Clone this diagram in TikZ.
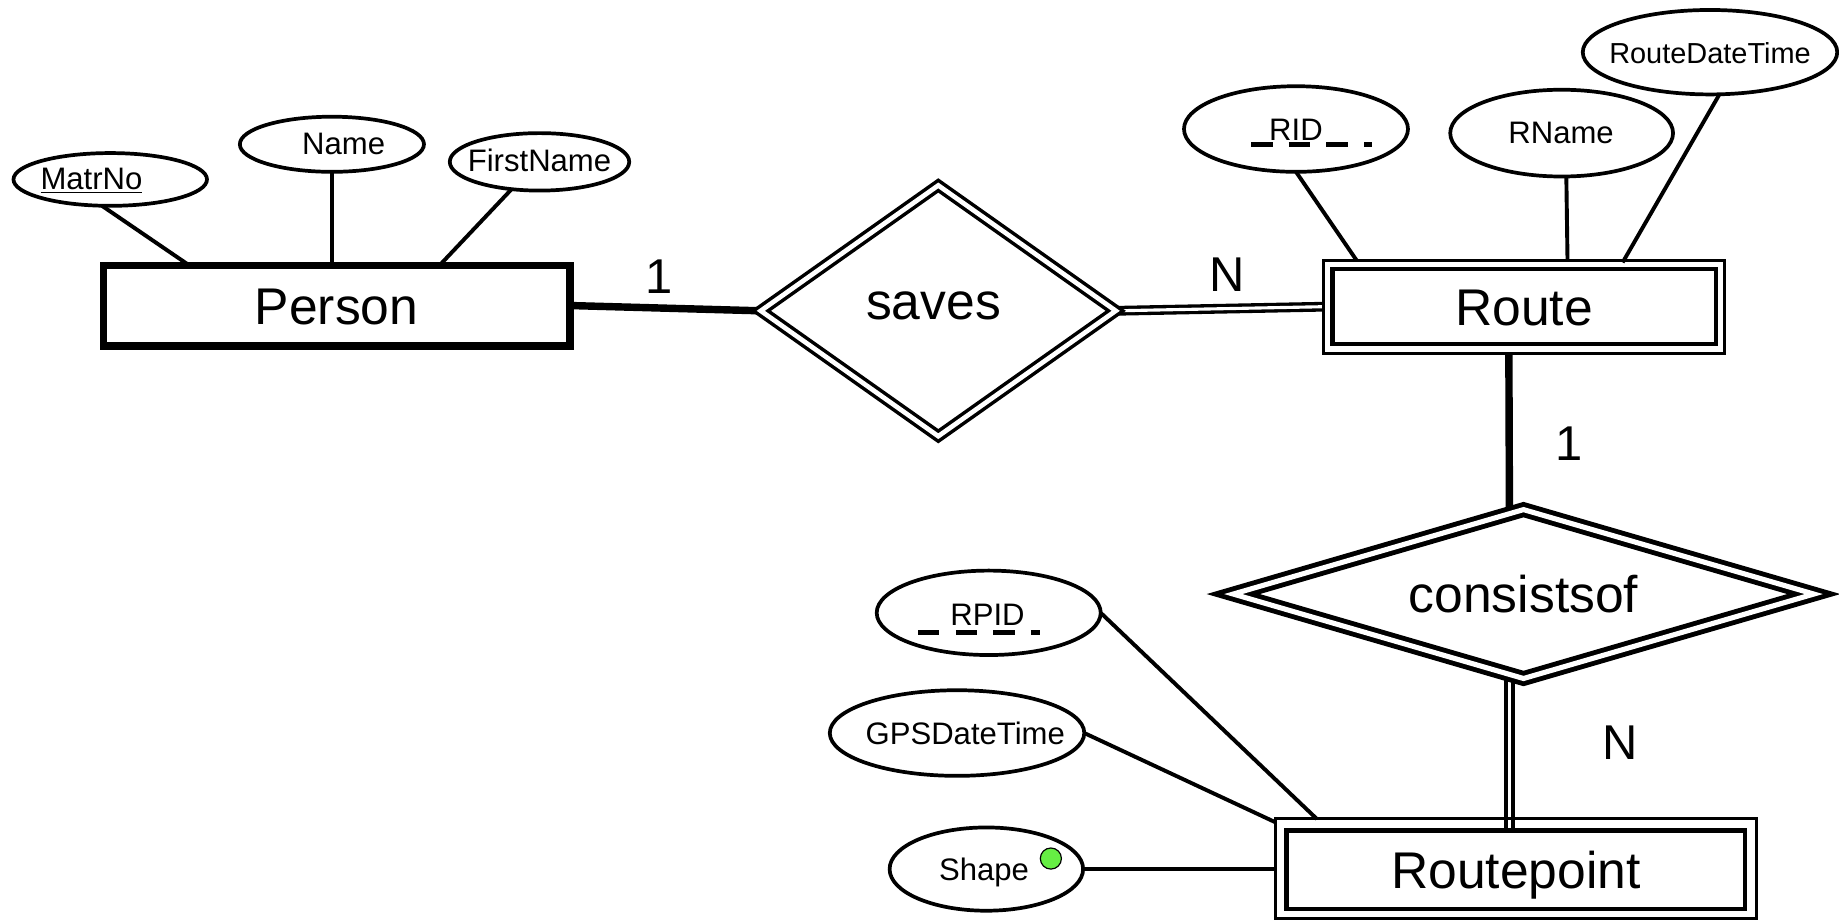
\documentclass[tikz,border=0pt]{standalone}
\usepackage{fontspec}
\setmainfont{Liberation Sans}
\usetikzlibrary{shapes.geometric,calc,backgrounds}
\definecolor{dotgreen}{RGB}{102,238,68}
\begin{document}
\begin{tikzpicture}[x=0.6pt,y=-0.6pt,
  every node/.style={inner sep=0pt, outer sep=0pt},
  attr/.style={ellipse, draw, fill=white, line width=1.9pt},
  attrtext/.style={font=\fontsize{15.9}{18}\selectfont, text height=11.4pt, text depth=0pt},
  bigtext/.style={font=\fontsize{26.4}{30}\selectfont, text height=18.9pt, text depth=0pt},
  card/.style={font=\fontsize{25}{30}\selectfont, text height=17.9pt, text depth=0pt},
  conn/.style={line width=2pt},
  thickconn/.style={line width=3.8pt},
  dblconn/.style={double, line width=1.7pt, double distance=1.6pt},
  entity/.style={rectangle, draw, line width=3.6pt, bigtext},
  outerbox/.style={rectangle, draw, line width=1.5pt},
  innerbox/.style={rectangle, draw, line width=2.2pt, bigtext},
  rel/.style={diamond, draw, fill=white, double, bigtext},
  keydash/.style={line width=2.4pt, dash pattern=on 10.8pt off 8.4pt},
]
\useasboundingbox (0,0) rectangle (1568,784);

% entities
\node[entity, minimum width=238.8pt, minimum height=41.4pt] (person) at (287,260.5) {Person};
\node[outerbox, minimum width=205.2pt, minimum height=47.7pt] (routeO) at (1299.5,261.5) {};
\node[innerbox, minimum width=196.2pt, minimum height=38.4pt] (route) at (1299.5,261.5) {Route};
\node[outerbox, minimum width=245.7pt, minimum height=50.85pt] (rpO) at (1292.5,740.6) {};
\node[innerbox, minimum width=234.6pt, minimum height=40.2pt] (rp) at (1292.5,741.5) {Routepoint};

% relationships
\node[rel, line width=1.8pt, double distance=2.4pt, minimum width=181.6pt, minimum height=128.3pt] (saves) at (800,265) {};
\node[bigtext] (savesT) at (796,257) {saves};
\node[rel, aspect=3.4, line width=2.5pt, double distance=2.6pt, minimum width=297pt, minimum height=86.4pt] (cons) at (1299,506.5) {consistsof};

% attributes
\node[attr, minimum width=99pt, minimum height=27pt] (matr) at (94,153) {};
\node[attrtext] (matrT) at (78,152) {\underline{MatrNo}};
\node[attr, minimum width=94.2pt, minimum height=28.2pt] (name) at (283,123) {};
\node[attrtext] (nameT) at (293,122) {Name};
\node[attr, minimum width=91.8pt, minimum height=29.4pt] (fn) at (460,138) {};
\node[attrtext] (fnT) at (460,137) {FirstName};

\node[attr, minimum width=114.6pt, minimum height=43.8pt] (rid) at (1105,110) {};
\node[attrtext] (ridT) at (1105,110) {RID};
\node[attr, minimum width=114pt, minimum height=44.4pt] (rname) at (1331.5,113.5) {};
\node[attrtext] (rnameT) at (1331,113) {RName};
\node[attr, minimum width=130.2pt, minimum height=43.2pt] (rdt) at (1458,44.5) {};
\node[attrtext, font=\fontsize{14.8}{17}\selectfont, text height=10.6pt] (rdtT) at (1458,45) {RouteDateTime};

\node[attr, minimum width=114.6pt, minimum height=43.2pt] (rpid) at (843,522.5) {};
\node[attrtext] (rpidT) at (842,523.5) {RPID};
\node[attr, minimum width=130.2pt, minimum height=43.8pt] (gps) at (816,625) {};
\node[attrtext] (gpsT) at (823,625) {GPSDateTime};
\node[attr, minimum width=99pt, minimum height=42.6pt] (shp) at (841,741) {};
\node[attrtext] (shpT) at (839,741) {Shape};
\node[circle, draw, fill=dotgreen, line width=0.6pt, minimum size=10.8pt] (dot) at (896,732) {};

% partial key underlines
\draw[keydash] (1067,123) -- (1170,123);
\draw[keydash] (783,539.5) -- (887,539.5);

% cardinalities
\node[card] (c1) at (562,235) {1};
\node[card] (c2) at (1046,234) {N};
\node[card] (c3) at (1338,378) {1};
\node[card] (c4) at (1381,633) {N};

% connectors
\begin{scope}[on background layer]
\draw[thickconn] (person.east) -- (saves.west);
\draw[dblconn] (saves.east) -- (routeO.west);
\draw[thickconn] ($(routeO.south)+(-13,0)$) -- ($(cons.north)+(-12,3.5)$);
\draw[double, line width=1.8pt, double distance=1.8pt] ($(cons.south)+(-12,-3.5)$) -- ($(rp.north)+(-5.5,0)$);

\draw[conn] ($(matr.south)+(-7,0)$) -- ($(person.north west)+(73,0)$);
\draw[conn] (name.south) -- (name.south |- person.north);
\draw[conn] ($(fn.south)+(-24,-1)$) -- ($(person.north west)+(287,0)$);

\draw[conn] (rid.south) -- ($(routeO.north west)+(28,0)$);
\draw[conn] ($(rname.south)+(4,0)$) -- ($(routeO.north west)+(208,0)$);
\draw[conn] ($(rdt.south)+(8,0)$) -- ($(routeO.north west)+(255,2)$);

\draw[conn] (rpid.east) -- ($(rpO.north west)+(35,0)$);
\draw[conn] (gps.east) -- ($(rpO.north west)+(0,3)$);
\draw[conn] (shp.east) -- (shp.east -| rpO.west);
\end{scope}
\end{tikzpicture}
\end{document}
